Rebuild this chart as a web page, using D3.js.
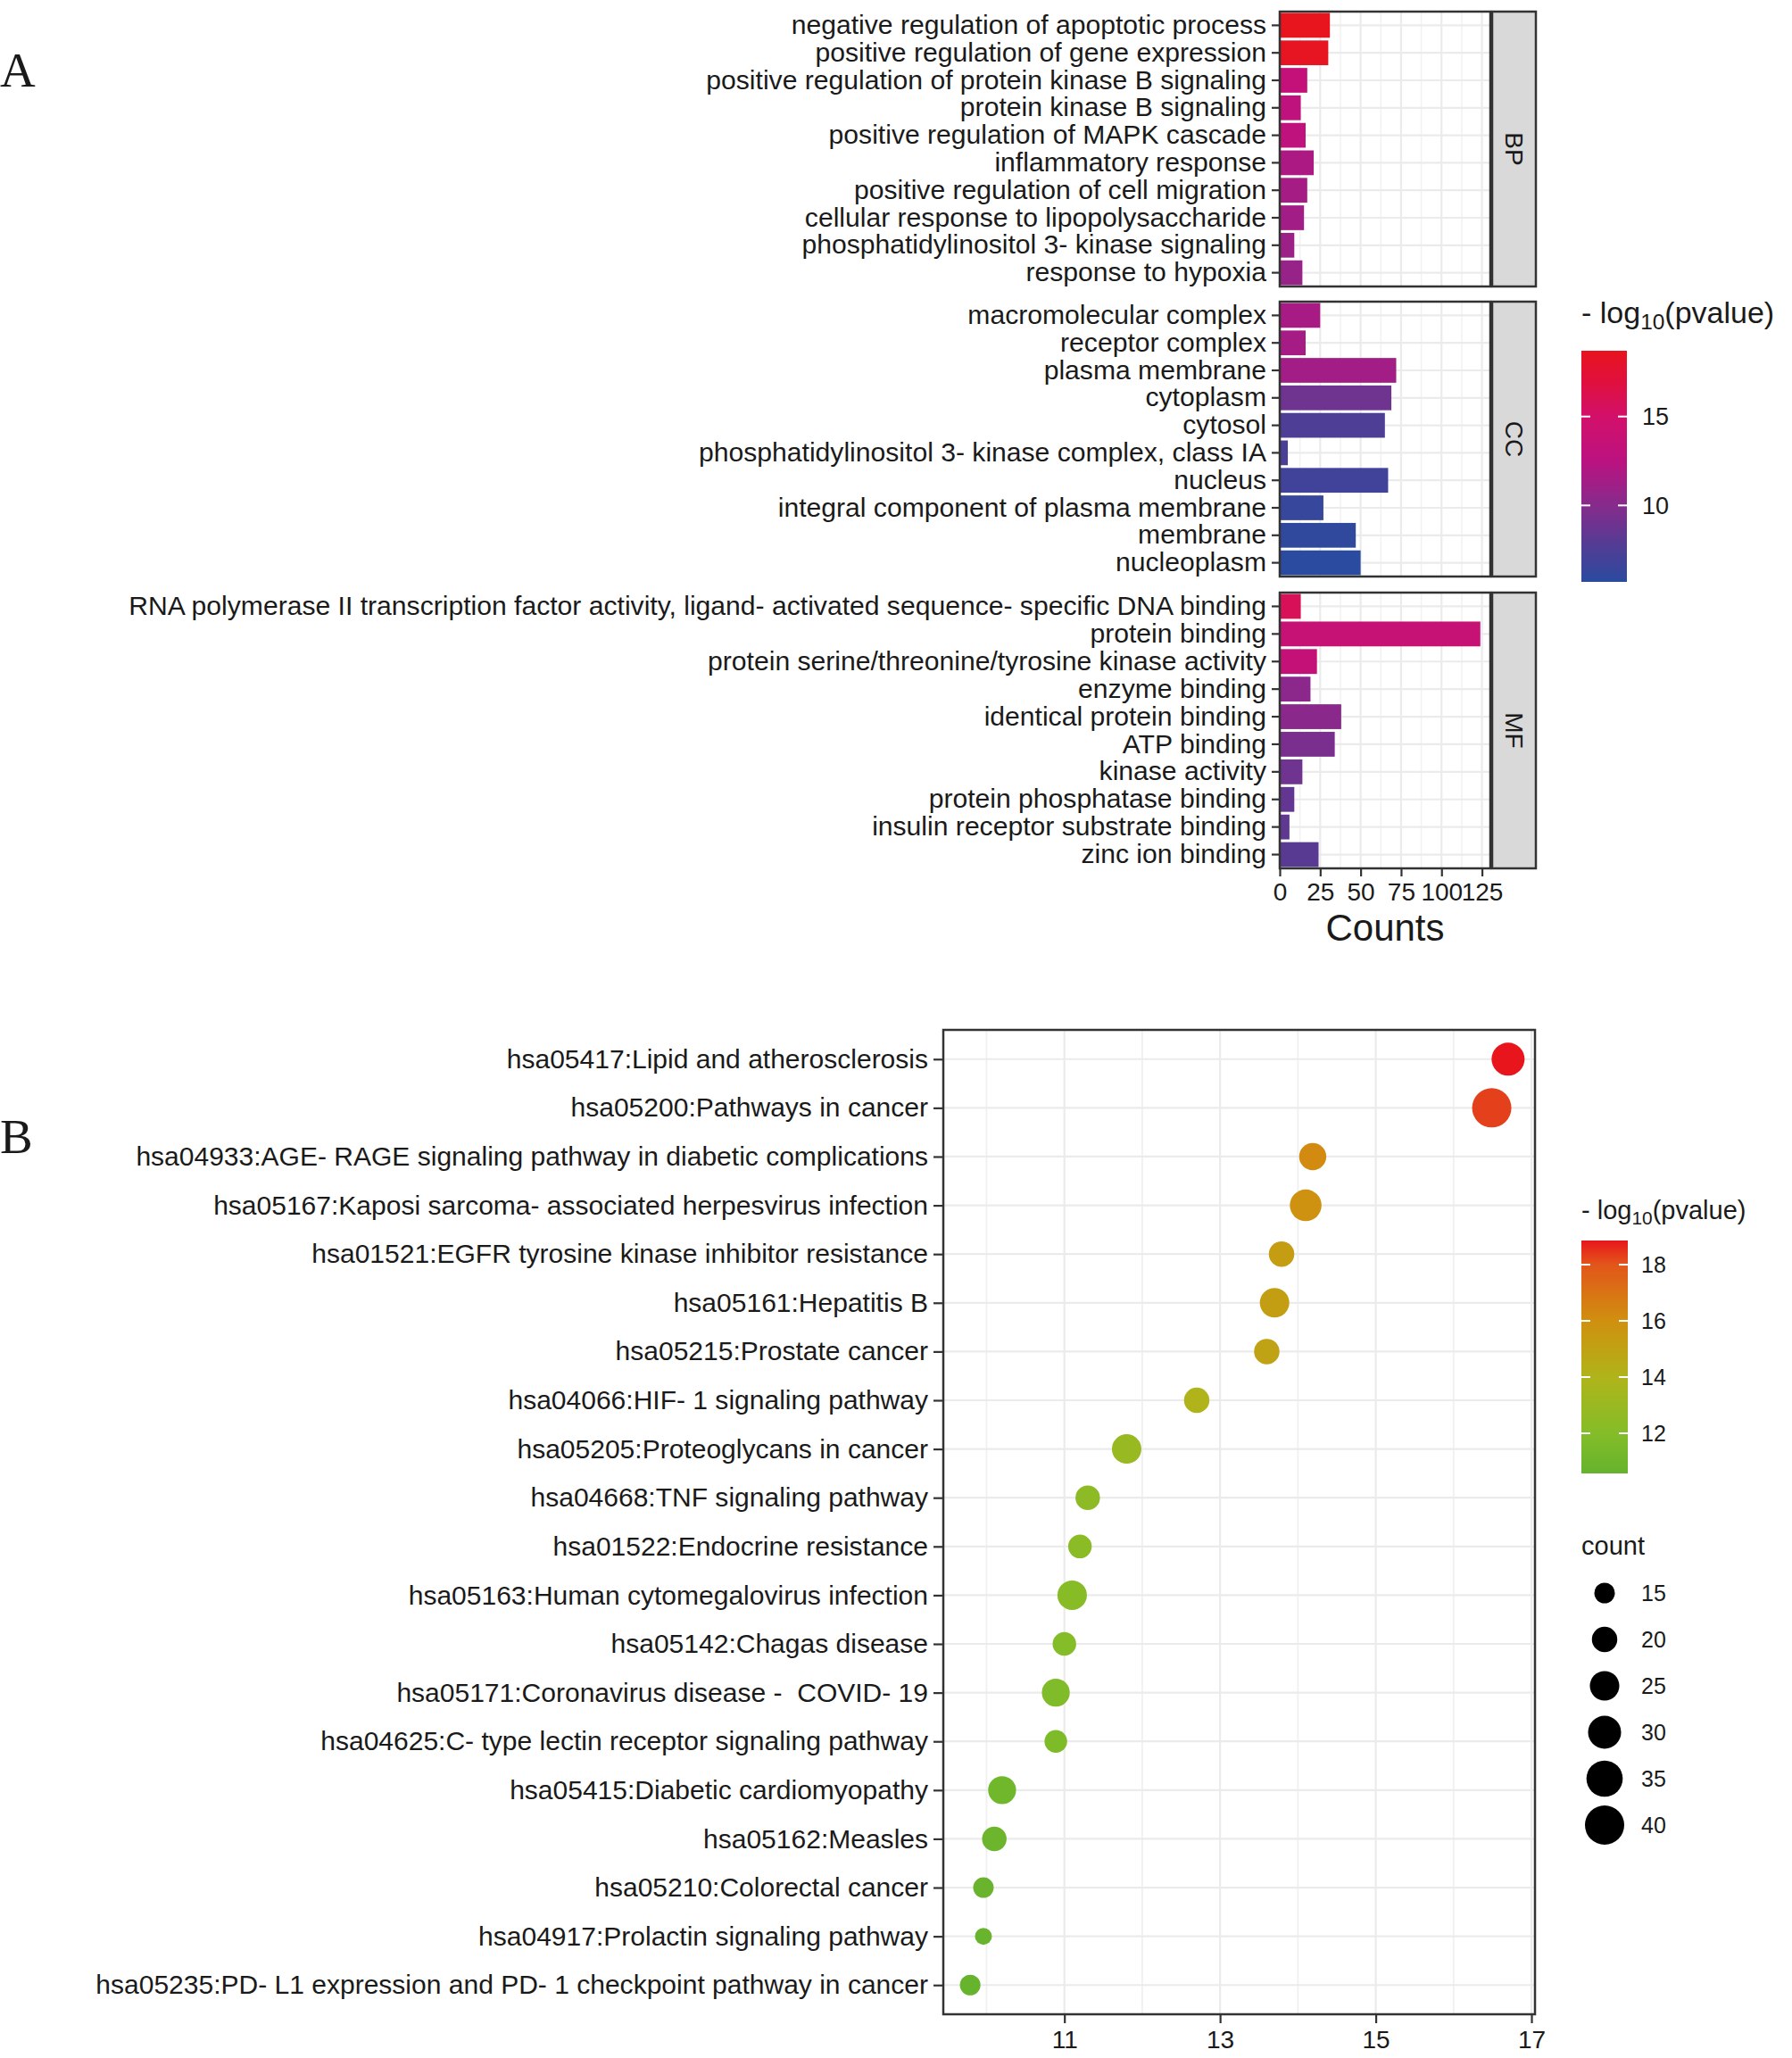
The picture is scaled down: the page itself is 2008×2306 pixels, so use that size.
<!DOCTYPE html>
<html><head><meta charset="utf-8">
<script src="https://cdn.jsdelivr.net/npm/d3@7"></script>
<style>
body{margin:0;background:#fff}
text{font-family:"Liberation Sans",Arial,Helvetica,sans-serif;fill:#1a1a1a}
</style>
</head><body>
<svg id="c" width="2008" height="2306" xmlns="http://www.w3.org/2000/svg"></svg>
<script>
// ---------------- DATA: Panel A (GO) ----------------
const goCategories = ["BP", "CC", "MF"];
const goTerms = [
  "negative regulation of apoptotic process",
  "positive regulation of gene expression",
  "positive regulation of protein kinase B signaling",
  "protein kinase B signaling",
  "positive regulation of MAPK cascade",
  "inflammatory response",
  "positive regulation of cell migration",
  "cellular response to lipopolysaccharide",
  "phosphatidylinositol 3- kinase signaling",
  "response to hypoxia",
  "macromolecular complex",
  "receptor complex",
  "plasma membrane",
  "cytoplasm",
  "cytosol",
  "phosphatidylinositol 3- kinase complex, class IA",
  "nucleus",
  "integral component of plasma membrane",
  "membrane",
  "nucleoplasm",
  "RNA polymerase II transcription factor activity, ligand- activated sequence- specific DNA binding",
  "protein binding",
  "protein serine/threonine/tyrosine kinase activity",
  "enzyme binding",
  "identical protein binding",
  "ATP binding",
  "kinase activity",
  "protein phosphatase binding",
  "insulin receptor substrate binding",
  "zinc ion binding"
];
const goCategory = ["BP","BP","BP","BP","BP","BP","BP","BP","BP","BP",
                    "CC","CC","CC","CC","CC","CC","CC","CC","CC","CC",
                    "MF","MF","MF","MF","MF","MF","MF","MF","MF","MF"];
const goCounts = [31, 30, 17, 13, 16, 21, 17, 15, 9, 14,
                  25, 16, 72, 69, 65, 5, 67, 27, 47, 50,
                  13, 124, 23, 19, 38, 34, 14, 9, 6, 24];
const goLogP = [18.7, 18.5, 13.3, 13.0, 12.9, 11.8, 11.5, 11.3, 11.0, 10.8,
                11.6, 11.5, 11.3, 9.0, 7.5, 7.3, 6.8, 6.3, 6.0, 5.7,
                15.8, 13.7, 13.4, 10.3, 10.2, 9.5, 9.0, 8.5, 8.3, 8.0];
const countTicks = [0, 25, 50, 75, 100, 125];
const goColorTicks = [10, 15];

// ---------------- DATA: Panel B (KEGG) ----------------
const keggTerms = [
  "hsa05417:Lipid and atherosclerosis",
  "hsa05200:Pathways in cancer",
  "hsa04933:AGE- RAGE signaling pathway in diabetic complications",
  "hsa05167:Kaposi sarcoma- associated herpesvirus infection",
  "hsa01521:EGFR tyrosine kinase inhibitor resistance",
  "hsa05161:Hepatitis B",
  "hsa05215:Prostate cancer",
  "hsa04066:HIF- 1 signaling pathway",
  "hsa05205:Proteoglycans in cancer",
  "hsa04668:TNF signaling pathway",
  "hsa01522:Endocrine resistance",
  "hsa05163:Human cytomegalovirus infection",
  "hsa05142:Chagas disease",
  "hsa05171:Coronavirus disease -\u00a0 COVID- 19",
  "hsa04625:C- type lectin receptor signaling pathway",
  "hsa05415:Diabetic cardiomyopathy",
  "hsa05162:Measles",
  "hsa05210:Colorectal cancer",
  "hsa04917:Prolactin signaling pathway",
  "hsa05235:PD- L1 expression and PD- 1 checkpoint pathway in cancer"
];
const keggX = [16.70, 16.49, 14.19, 14.10, 13.79, 13.70, 13.60, 12.70, 11.80, 11.30,
               11.20, 11.10, 11.00, 10.89, 10.89, 10.20, 10.10, 9.96, 9.96, 9.79];
const keggCount = [30, 40, 22, 28, 20, 25, 20, 20, 25, 19,
                   18, 25, 18, 23, 17, 23, 19, 15, 12, 15];
const keggLogP = [18.86, 18.3, 16.2, 15.9, 15.3, 15.2, 15.0, 14.0, 12.9, 12.4,
                  12.3, 12.2, 12.0, 11.8, 11.7, 11.1, 10.9, 10.75, 10.7, 10.57];
const keggXTicks = [11, 13, 15, 17];
const keggXMinor = [10, 12, 14, 16];
const keggColorTicks = [12, 14, 16, 18];
const keggSizeBreaks = [15, 20, 25, 30, 35, 40];

// ---------------- DRAW ----------------
const svg = d3.select("#c");
const GRID = "#ebebeb", BORDER = "#333333";

function fitSize(txt, target) {
  const t = svg.append("text").attr("font-size", 100).text(txt);
  const w = t.node().getComputedTextLength();
  t.remove();
  return 100 * target / w;
}

// Panel letters
svg.append("text").attr("x", 0).attr("y", 97).attr("font-size", 55)
  .style("font-family", "'Liberation Serif','Times New Roman',serif").text("A");
svg.append("text").attr("x", 0).attr("y", 1292).attr("font-size", 55)
  .style("font-family", "'Liberation Serif','Times New Roman',serif").text("B");

// ===== Panel A =====
const goData = goTerms.map((t, i) => ({term: t, cat: goCategory[i], count: goCounts[i], lp: goLogP[i]}));
const pA = {left: 1434, right: 1670, stripR: 1721};
const panelY = {BP: [13, 321], CC: [338, 646], MF: [664, 973]};
const xA = d3.scaleLinear().domain([0, d3.max(goCounts) * 1.05]).range([pA.left, pA.right]);
const lpExtA = d3.extent(goLogP);
const colStopsA = [0, 0.178, 0.331, 0.523, 0.716, 0.869, 1];
const colColsA = ["#2a4b9f", "#583a93", "#862b8c", "#bb1280", "#d3106a", "#e0103c", "#e8141e"];
const tA = d3.scaleLinear().domain(lpExtA).range([0, 1]);
const cMapA = d3.scaleLinear().domain(colStopsA).range(colColsA).interpolate(d3.interpolateRgb);
const colorA = v => cMapA(tA(v));

const longestA = goTerms.reduce((a, b) => b.length > a.length ? b : a);
const fsA = fitSize(longestA, 1275);

goCategories.forEach(cat => {
  const rows = goData.filter(d => d.cat === cat);
  const [y0, y1] = panelY[cat];
  const yb = d3.scaleBand().domain(rows.map(d => d.term)).range([y0, y1]).paddingInner(0.1).paddingOuter(0.05);
  const g = svg.append("g");
  g.append("rect").attr("x", pA.left).attr("y", y0).attr("width", pA.right - pA.left).attr("height", y1 - y0).attr("fill", "#fff");
  const minor = d3.range(12.5, xA.domain()[1], 25);
  g.selectAll(".mn").data(minor).join("line")
    .attr("x1", d => xA(d)).attr("x2", d => xA(d)).attr("y1", y0).attr("y2", y1)
    .attr("stroke", "#f2f2f2").attr("stroke-width", 1.5);
  g.selectAll(".mj").data(countTicks).join("line")
    .attr("x1", d => xA(d)).attr("x2", d => xA(d)).attr("y1", y0).attr("y2", y1)
    .attr("stroke", GRID).attr("stroke-width", 2.2);
  g.selectAll(".hz").data(rows).join("line")
    .attr("x1", pA.left).attr("x2", pA.right)
    .attr("y1", d => yb(d.term) + yb.bandwidth() / 2).attr("y2", d => yb(d.term) + yb.bandwidth() / 2)
    .attr("stroke", GRID).attr("stroke-width", 2.2);
  g.selectAll(".bar").data(rows).join("rect")
    .attr("x", xA(0)).attr("y", d => yb(d.term))
    .attr("width", d => xA(d.count) - xA(0)).attr("height", yb.bandwidth())
    .attr("fill", d => colorA(d.lp));
  g.append("rect").attr("x", pA.left).attr("y", y0).attr("width", pA.right - pA.left).attr("height", y1 - y0)
    .attr("fill", "none").attr("stroke", BORDER).attr("stroke-width", 2.5);
  g.append("rect").attr("x", pA.right + 2).attr("y", y0).attr("width", pA.stripR - pA.right - 2).attr("height", y1 - y0)
    .attr("fill", "#d9d9d9").attr("stroke", BORDER).attr("stroke-width", 2.5);
  const cx = (pA.right + 2 + pA.stripR) / 2, cy = (y0 + y1) / 2;
  g.append("text").attr("transform", `translate(${cx},${cy}) rotate(90)`)
    .attr("text-anchor", "middle").attr("dy", "0.35em").attr("font-size", 28).text(cat);
  const ax = svg.append("g").attr("transform", `translate(${pA.left},0)`)
    .call(d3.axisLeft(yb).tickSize(9).tickPadding(6));
  ax.select(".domain").remove();
  ax.selectAll(".tick line").attr("stroke", BORDER).attr("stroke-width", 2.2);
  ax.selectAll(".tick text").attr("font-size", fsA).attr("fill", "#1a1a1a")
    .style("font-family", "'Liberation Sans',Arial,sans-serif");
});
const axA = svg.append("g").attr("transform", `translate(0,${panelY.MF[1]})`)
  .call(d3.axisBottom(xA).tickValues(countTicks).tickSize(9).tickPadding(7));
axA.select(".domain").remove();
axA.selectAll(".tick line").attr("stroke", BORDER).attr("stroke-width", 2.2);
axA.selectAll(".tick text").attr("font-size", 28).attr("fill", "#1a1a1a")
  .style("font-family", "'Liberation Sans',Arial,sans-serif");
svg.append("text").attr("x", (pA.left + pA.right) / 2).attr("y", 1054).attr("text-anchor", "middle")
  .attr("font-size", 42).text("Counts");

// Legend A
function legendTitle(x, y, fs) {
  const t = svg.append("text").attr("x", x).attr("y", y).attr("font-size", fs);
  t.append("tspan").text("- log");
  t.append("tspan").attr("font-size", fs * 0.72).attr("dy", fs * 0.22).text("10");
  t.append("tspan").attr("dy", -fs * 0.22).text("(pvalue)");
}
legendTitle(1772, 362, 34);
const defs = svg.append("defs");
const gradA = defs.append("linearGradient").attr("id", "gA").attr("x1", 0).attr("y1", 1).attr("x2", 0).attr("y2", 0);
d3.range(0, 1.0001, 0.02).forEach(t => gradA.append("stop").attr("offset", t).attr("stop-color", cMapA(t)));
const lgA = {x: 1772, w: 51, y0: 393, y1: 652};
svg.append("rect").attr("x", lgA.x).attr("y", lgA.y0).attr("width", lgA.w).attr("height", lgA.y1 - lgA.y0).attr("fill", "url(#gA)");
const lyA = d3.scaleLinear().domain(lpExtA).range([lgA.y1, lgA.y0]);
goColorTicks.forEach(v => {
  [[lgA.x, lgA.x + 10], [lgA.x + lgA.w - 10, lgA.x + lgA.w]].forEach(([a, b]) =>
    svg.append("line").attr("x1", a).attr("x2", b).attr("y1", lyA(v)).attr("y2", lyA(v)).attr("stroke", "#fff").attr("stroke-width", 2));
  svg.append("text").attr("x", 1840).attr("y", lyA(v)).attr("dy", "0.35em").attr("font-size", 27).text(v);
});

// ===== Panel B =====
const pB = {left: 1057, right: 1720, top: 1154, bottom: 2257};
const xExt = d3.extent(keggX), xr = xExt[1] - xExt[0];
const xB = d3.scaleLinear().domain([xExt[0] - 0.05 * xr, xExt[1] + 0.05 * xr]).range([pB.left, pB.right]);
const yB = d3.scalePoint().domain(keggTerms).range([pB.top, pB.bottom]).padding(0.6);
const lpExtB = d3.extent(keggLogP);
const tB = d3.scaleLinear().domain(lpExtB).range([0, 1]);
const cMapB = d3.scaleLinear().domain([0, 0.1725, 0.414, 0.655, 0.896, 1])
  .range(["#66b32e", "#84bd28", "#b0b41a", "#d0900f", "#e2561a", "#e8161c"]);
const colorB = v => cMapB(tB(v));
const cntExt = d3.extent(keggCount);
// marker area grows linearly with count
const areaScale = d3.scaleLinear().domain(cntExt).range([19 * 19, 44 * 44]);
const diam = v => Math.sqrt(areaScale(v));

const gB = svg.append("g");
gB.append("rect").attr("x", pB.left).attr("y", pB.top).attr("width", pB.right - pB.left).attr("height", pB.bottom - pB.top).attr("fill", "#fff");
gB.selectAll(".mn").data(keggXMinor).join("line")
  .attr("x1", d => xB(d)).attr("x2", d => xB(d)).attr("y1", pB.top).attr("y2", pB.bottom)
  .attr("stroke", "#f0f0f0").attr("stroke-width", 1.8);
gB.selectAll(".mj").data(keggXTicks).join("line")
  .attr("x1", d => xB(d)).attr("x2", d => xB(d)).attr("y1", pB.top).attr("y2", pB.bottom)
  .attr("stroke", GRID).attr("stroke-width", 2.2);
gB.selectAll(".hz").data(keggTerms).join("line")
  .attr("x1", pB.left).attr("x2", pB.right).attr("y1", d => yB(d)).attr("y2", d => yB(d))
  .attr("stroke", GRID).attr("stroke-width", 2.2);
const keggData = keggTerms.map((t, i) => ({term: t, x: keggX[i], n: keggCount[i], lp: keggLogP[i]}));
gB.selectAll(".pt").data(keggData).join("circle")
  .attr("cx", d => xB(d.x)).attr("cy", d => yB(d.term)).attr("r", d => diam(d.n) / 2)
  .attr("fill", d => colorB(d.lp));
gB.append("rect").attr("x", pB.left).attr("y", pB.top).attr("width", pB.right - pB.left).attr("height", pB.bottom - pB.top)
  .attr("fill", "none").attr("stroke", BORDER).attr("stroke-width", 2.5);

const longestB = keggTerms.reduce((a, b) => b.length > a.length ? b : a);
const fsB = fitSize(longestB, 933);
const ayB = svg.append("g").attr("transform", `translate(${pB.left},0)`)
  .call(d3.axisLeft(yB).tickSize(11).tickPadding(6));
ayB.select(".domain").remove();
ayB.selectAll(".tick line").attr("stroke", BORDER).attr("stroke-width", 2.2);
ayB.selectAll(".tick text").attr("font-size", fsB).attr("fill", "#1a1a1a")
  .style("font-family", "'Liberation Sans',Arial,sans-serif");
const axB = svg.append("g").attr("transform", `translate(0,${pB.bottom})`)
  .call(d3.axisBottom(xB).tickValues(keggXTicks).tickSize(10).tickPadding(8));
axB.select(".domain").remove();
axB.selectAll(".tick line").attr("stroke", BORDER).attr("stroke-width", 2.2);
axB.selectAll(".tick text").attr("font-size", 28).attr("fill", "#1a1a1a")
  .style("font-family", "'Liberation Sans',Arial,sans-serif");

// Legend B - color
legendTitle(1772, 1366, 29);
const gradB = defs.append("linearGradient").attr("id", "gB").attr("x1", 0).attr("y1", 1).attr("x2", 0).attr("y2", 0);
d3.range(0, 1.0001, 0.02).forEach(t => gradB.append("stop").attr("offset", t).attr("stop-color", cMapB(t)));
const lgB = {x: 1772, w: 52, y0: 1390, y1: 1651};
svg.append("rect").attr("x", lgB.x).attr("y", lgB.y0).attr("width", lgB.w).attr("height", lgB.y1 - lgB.y0).attr("fill", "url(#gB)");
const lyB = d3.scaleLinear().domain(lpExtB).range([lgB.y1, lgB.y0]);
keggColorTicks.forEach(v => {
  [[lgB.x, lgB.x + 10], [lgB.x + lgB.w - 10, lgB.x + lgB.w]].forEach(([a, b]) =>
    svg.append("line").attr("x1", a).attr("x2", b).attr("y1", lyB(v)).attr("y2", lyB(v)).attr("stroke", "#fff").attr("stroke-width", 2));
  svg.append("text").attr("x", 1839).attr("y", lyB(v)).attr("dy", "0.35em").attr("font-size", 25).text(v);
});
// Legend B - size
svg.append("text").attr("x", 1772).attr("y", 1732).attr("dy", "0.35em").attr("font-size", 29).text("count");
keggSizeBreaks.forEach((v, i) => {
  const cy = 1785 + i * 52;
  svg.append("circle").attr("cx", 1798).attr("cy", cy).attr("r", diam(v) / 2).attr("fill", "#000");
  svg.append("text").attr("x", 1839).attr("y", cy).attr("dy", "0.35em").attr("font-size", 25).text(v);
});
</script>
</body></html>
